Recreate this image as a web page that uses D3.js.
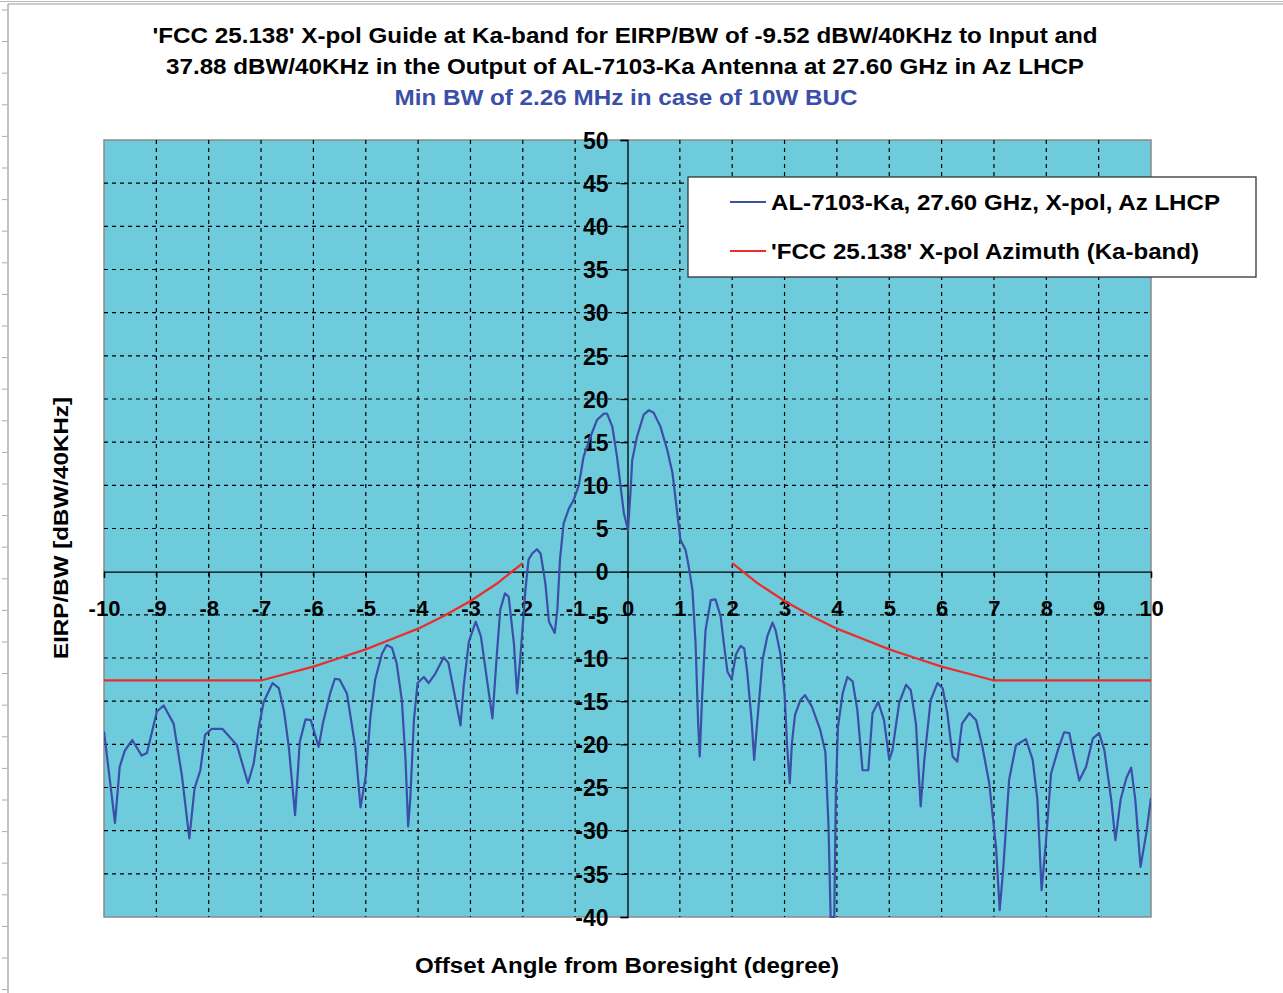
<!DOCTYPE html>
<html>
<head>
<meta charset="utf-8">
<script src="https://cdn.jsdelivr.net/npm/d3@7"></script>
<style>
  html, body { margin: 0; padding: 0; background: #ffffff; }
  svg { display: block; }
  text { font-family: "Liberation Sans", Arial, sans-serif; font-weight: bold; }
</style>
</head>
<body>
<svg id="chart" width="1283" height="993"></svg>
<script>
// ---------------- DATA ----------------
const titleLines = [
  "'FCC 25.138' X-pol Guide at Ka-band for EIRP/BW of -9.52 dBW/40KHz to Input and",
  "37.88 dBW/40KHz in the Output of AL-7103-Ka Antenna at 27.60 GHz in Az LHCP"
];
const subtitle = "Min BW of 2.26 MHz in case of 10W BUC";
const xTitle = "Offset Angle from Boresight (degree)";
const yTitle = "EIRP/BW [dBW/40KHz]";
const seriesNames = ["AL-7103-Ka, 27.60 GHz, X-pol, Az LHCP", "'FCC 25.138' X-pol Azimuth (Ka-band)"];

const xTicks = [-10,-9,-8,-7,-6,-5,-4,-3,-2,-1,0,1,2,3,4,5,6,7,8,9,10];
const yTicks = [-40,-35,-30,-25,-20,-15,-10,-5,0,5,10,15,20,25,30,35,40,45,50];

// Antenna X-pol pattern (blue)
const antX = [-10,-9.79,-9.7,-9.6,-9.46,-9.28,-9.18,-8.99,-8.86,-8.67,-8.51,-8.37,-8.27,-8.16,-8.07,-7.94,-7.74,-7.46,-7.25,-7.14,-7.04,-6.95,-6.78,-6.66,-6.56,-6.47,-6.35,-6.26,-6.15,-6.05,-5.9,-5.82,-5.68,-5.59,-5.5,-5.36,-5.2,-5.1,-5.0,-4.91,-4.82,-4.69,-4.6,-4.5,-4.41,-4.31,-4.24,-4.19,-4.15,-4.08,-4.01,-3.89,-3.8,-3.67,-3.51,-3.42,-3.32,-3.19,-3.13,-3.03,-2.9,-2.8,-2.71,-2.58,-2.49,-2.43,-2.34,-2.27,-2.17,-2.11,-2.05,-1.95,-1.89,-1.82,-1.73,-1.66,-1.57,-1.5,-1.39,-1.34,-1.29,-1.22,-1.12,-1.03,-0.93,-0.84,-0.71,-0.58,-0.45,-0.39,-0.29,-0.2,-0.13,-0.07,0.01,0.06,0.09,0.18,0.31,0.41,0.5,0.63,0.76,0.86,0.95,1.01,1.11,1.17,1.24,1.3,1.35,1.38,1.42,1.49,1.59,1.68,1.78,1.84,1.91,1.99,2.07,2.16,2.23,2.29,2.37,2.42,2.47,2.58,2.67,2.77,2.83,2.92,3.0,3.05,3.1,3.14,3.2,3.3,3.39,3.52,3.68,3.78,3.84,3.88,3.95,3.98,4.02,4.11,4.2,4.3,4.39,4.49,4.6,4.68,4.79,4.9,5.0,5.06,5.19,5.32,5.41,5.51,5.6,5.67,5.79,5.92,6.02,6.11,6.21,6.3,6.39,6.53,6.66,6.78,6.91,7.04,7.11,7.18,7.29,7.42,7.61,7.74,7.83,7.91,7.99,8.09,8.22,8.34,8.44,8.53,8.63,8.76,8.89,9.01,9.11,9.24,9.32,9.42,9.53,9.62,9.7,9.8,9.91,10.0];
const antY = [-18.5,-29.1,-22.6,-20.7,-19.5,-21.3,-21.0,-16.2,-15.5,-17.6,-23.7,-30.9,-25.1,-23.0,-18.9,-18.2,-18.2,-20.1,-24.5,-22.2,-17.9,-15.1,-12.9,-13.5,-16.2,-20.3,-28.2,-19.7,-17.1,-17.2,-20.3,-17.6,-14.1,-12.4,-12.5,-14.1,-20.3,-27.3,-23.7,-16.8,-12.5,-9.5,-8.5,-8.8,-10.6,-14.9,-21.8,-29.5,-26.4,-17.2,-12.9,-12.2,-12.9,-11.8,-9.9,-10.6,-13.7,-17.8,-13.3,-8.1,-5.8,-7.5,-11.4,-17.0,-9.1,-4.4,-2.5,-2.9,-8.3,-14.1,-10.2,-2.1,1.4,2.1,2.6,2.1,-1.3,-5.8,-7.1,-4.4,1.4,5.6,7.3,8.3,10.0,13.3,15.6,17.6,18.3,18.3,16.8,13.3,9.8,6.8,4.8,9.5,12.9,15.6,18.2,18.7,18.4,16.8,14.1,11.4,6.8,3.7,2.5,0.6,-2.1,-8.3,-17.6,-21.4,-15.2,-6.8,-3.3,-3.2,-5.2,-8.3,-11.6,-12.5,-9.6,-8.6,-8.9,-11.8,-17.2,-21.8,-18.0,-10.2,-7.5,-5.9,-6.8,-9.5,-14.1,-20.3,-24.5,-19.9,-16.6,-14.9,-14.3,-15.6,-18.3,-20.9,-29.5,-40,-40,-25.7,-18.0,-14.1,-12.2,-12.7,-16.0,-23.0,-23.0,-16.4,-15.1,-17.2,-21.8,-20.7,-15.2,-13.1,-13.7,-17.6,-27.2,-21.8,-14.9,-12.9,-13.5,-16.4,-21.4,-22.0,-17.6,-16.4,-17.2,-20.3,-24.5,-31.9,-39.2,-34.2,-24.1,-20.1,-19.4,-21.8,-26.4,-36.9,-31.5,-23.4,-20.7,-18.6,-18.7,-21.4,-24.2,-22.6,-19.3,-18.7,-20.7,-26.4,-31.1,-26.4,-23.9,-22.7,-26.4,-34.2,-30.3,-26.2];

// FCC 25.138 X-pol mask (red), left and right branches
const fccLeftX  = [-10,-7,-6.5,-6,-5.5,-5,-4.5,-4,-3.5,-3,-2.5,-2];
const fccLeftY  = [-12.6,-12.6,-11.8,-11.0,-10.0,-9.0,-7.8,-6.6,-5.1,-3.4,-1.4,1.0];
const fccRightX = [2,2.5,3,3.5,4,4.5,5,5.5,6,6.5,7,10];
const fccRightY = [1.0,-1.4,-3.4,-5.1,-6.6,-7.8,-9.0,-10.0,-11.0,-11.8,-12.6,-12.6];

// ---------------- DRAW ----------------
const svg = d3.select("#chart");
const W = 1283, H = 993;
const plot = { left: 104, right: 1151, top: 140, bottom: 917 };
const blue = "#3b4fa8", red = "#ee2b2b", bg = "#6dcbdc";
const FONT = "'Liberation Sans', Arial, sans-serif";

// outer frame artefacts
svg.append("line").attr("x1", 8).attr("x2", 8).attr("y1", 4).attr("y2", H).attr("stroke", "#999").attr("stroke-width", 1.2);
svg.append("line").attr("x1", 8).attr("x2", W).attr("y1", 4).attr("y2", 4).attr("stroke", "#999").attr("stroke-width", 1.2);
svg.append("line").attr("x1", 0).attr("x2", W).attr("y1", 1.5).attr("y2", 1.5).attr("stroke", "#bbb").attr("stroke-width", 1);
d3.range(10, H, 31.6).forEach(yy => {
  svg.append("line").attr("x1", 2).attr("x2", 7).attr("y1", yy).attr("y2", yy).attr("stroke", "#aaa").attr("stroke-width", 1);
});

const x = d3.scaleLinear().domain([-10, 10]).range([plot.left, plot.right]);
const y = d3.scaleLinear().domain([-40, 50]).range([plot.bottom, plot.top]);
const fmt = d => String(d);   // plain hyphen-minus as in the reference

// plot background
svg.append("rect").attr("x", plot.left).attr("y", plot.top)
  .attr("width", plot.right - plot.left).attr("height", plot.bottom - plot.top)
  .attr("fill", bg).attr("stroke", "#8a8a8a").attr("stroke-width", 1.5);

// grid
const grid = svg.append("g");
grid.selectAll(".vg").data(xTicks.filter(d => d !== 0 && d !== -10 && d !== 10)).enter().append("line")
  .attr("x1", d => x(d)).attr("x2", d => x(d)).attr("y1", plot.top).attr("y2", plot.bottom)
  .attr("stroke", "#000").attr("stroke-width", 1.2).attr("stroke-dasharray", "4,4");
grid.selectAll(".hg").data(yTicks.filter(d => d !== 0 && d !== 50 && d !== -40)).enter().append("line")
  .attr("x1", plot.left).attr("x2", plot.right).attr("y1", d => y(d)).attr("y2", d => y(d))
  .attr("stroke", "#000").attr("stroke-width", 1.2).attr("stroke-dasharray", "4,4");

// axes through origin
const yAxis = d3.axisLeft(y).tickValues(yTicks).tickSize(7).tickFormat(fmt);
const gy = svg.append("g").attr("transform", `translate(${x(0)},0)`).call(yAxis);
gy.select(".domain").attr("stroke", "#000").attr("stroke-width", 1.3);
gy.selectAll(".tick line").attr("stroke", "#000").attr("stroke-width", 1.3);
gy.selectAll(".tick text").attr("font-size", 23).attr("fill", "#000")
  .attr("x", -19).attr("dy", "0.36em")
  .style("font-family", FONT).style("font-weight", "bold");

const xAxis = d3.axisBottom(x).tickValues(xTicks).tickSize(6).tickFormat(fmt);
const gx = svg.append("g").attr("transform", `translate(0,${y(0)})`).call(xAxis);
gx.select(".domain").attr("stroke", "#000").attr("stroke-width", 1.3);
gx.selectAll(".tick line").attr("stroke", "#000").attr("stroke-width", 1.3);
gx.selectAll(".tick text").attr("font-size", 22).attr("fill", "#000")
  .attr("y", 44).attr("dy", "0")
  .style("font-family", FONT).style("font-weight", "bold");

// lines
svg.append("clipPath").attr("id", "plotclip").append("rect")
  .attr("x", plot.left).attr("y", plot.top).attr("width", plot.right - plot.left).attr("height", plot.bottom - plot.top + 1);
const line = d3.line().x(d => x(d[0])).y(d => y(d[1]));
const series = svg.append("g").attr("clip-path", "url(#plotclip)");
series.append("path").datum(fccLeftX.map((v, i) => [v, fccLeftY[i]]))
  .attr("d", line).attr("fill", "none").attr("stroke", red).attr("stroke-width", 2.2);
series.append("path").datum(fccRightX.map((v, i) => [v, fccRightY[i]]))
  .attr("d", line).attr("fill", "none").attr("stroke", red).attr("stroke-width", 2.2);
series.append("path").datum(antX.map((v, i) => [v, antY[i]]))
  .attr("d", line).attr("fill", "none").attr("stroke", blue).attr("stroke-width", 2.2).attr("stroke-linejoin", "round");

// titles
svg.append("text").attr("x", 625).attr("y", 43).attr("text-anchor", "middle").attr("font-size", 22)
  .attr("fill", "#000").attr("textLength", 945).attr("lengthAdjust", "spacingAndGlyphs").text(titleLines[0]);
svg.append("text").attr("x", 625).attr("y", 74).attr("text-anchor", "middle").attr("font-size", 22)
  .attr("fill", "#000").attr("textLength", 918).attr("lengthAdjust", "spacingAndGlyphs").text(titleLines[1]);
svg.append("text").attr("x", 626).attr("y", 105).attr("text-anchor", "middle").attr("font-size", 22)
  .attr("fill", blue).attr("textLength", 463).attr("lengthAdjust", "spacingAndGlyphs").text(subtitle);

svg.append("text").attr("x", 627).attr("y", 973).attr("text-anchor", "middle").attr("font-size", 22)
  .attr("fill", "#000").attr("textLength", 424).attr("lengthAdjust", "spacingAndGlyphs").text(xTitle);
svg.append("text").attr("transform", "translate(68,528) rotate(-90)").attr("text-anchor", "middle").attr("font-size", 21)
  .attr("fill", "#000").attr("textLength", 262).attr("lengthAdjust", "spacingAndGlyphs").text(yTitle);

// legend
const lg = svg.append("g");
lg.append("rect").attr("x", 688).attr("y", 177).attr("width", 568).attr("height", 100)
  .attr("fill", "#fff").attr("stroke", "#333").attr("stroke-width", 1.3);
[blue, red].forEach((c, i) => {
  const yy = 202 + i * 49;
  lg.append("line").attr("x1", 730).attr("x2", 766).attr("y1", yy).attr("y2", yy).attr("stroke", c).attr("stroke-width", 2);
  lg.append("text").attr("x", 771).attr("y", yy + 8).attr("font-size", 22).attr("fill", "#000")
    .attr("textLength", i === 0 ? 449 : 428).attr("lengthAdjust", "spacingAndGlyphs").text(seriesNames[i]);
});
</script>
</body>
</html>
